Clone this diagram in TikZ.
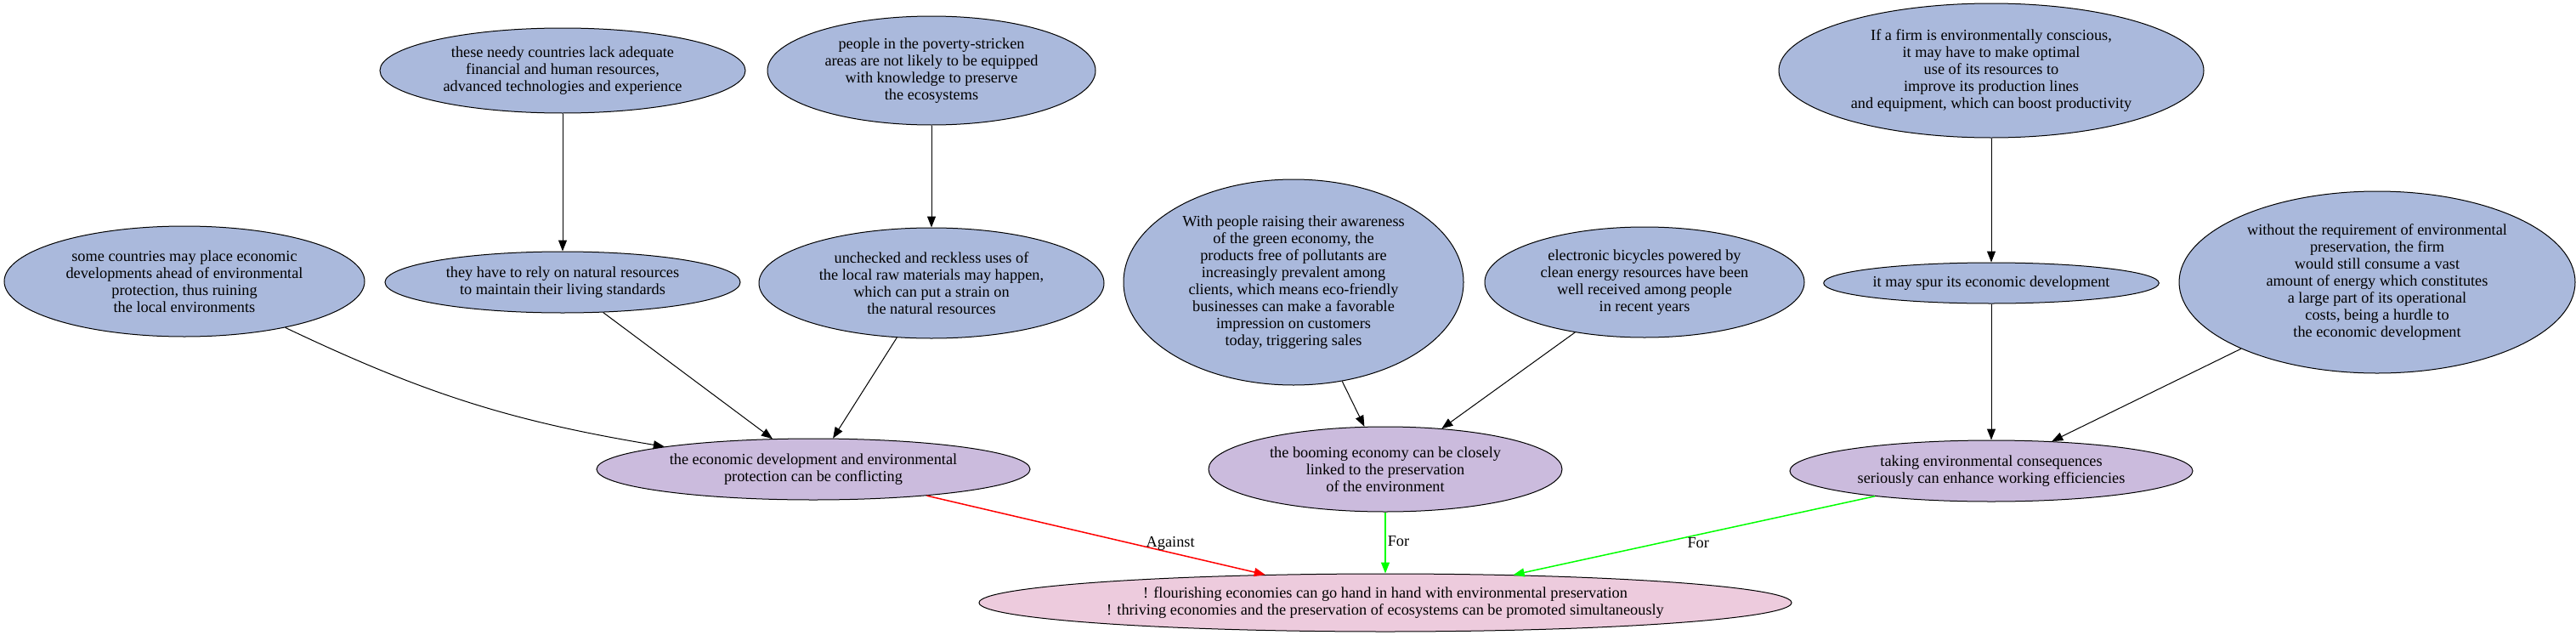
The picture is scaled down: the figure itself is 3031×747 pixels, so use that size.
\documentclass[tikz,border=0pt]{standalone}
\usepackage{fontspec}
\setmainfont{Liberation Serif}
\usepackage{xcolor}
\usepackage{tikz}
\usetikzlibrary{shapes.geometric, arrows.meta, positioning}
\definecolor{premisefill}{HTML}{AAB9DC}
\definecolor{claimfill}{HTML}{CBBBDD}
\definecolor{thesisfill}{HTML}{EDCBDD}

\begin{document}
\begin{tikzpicture}[x=1pt, y=-1pt,
        font=\fontsize{18.3}{20}\selectfont,
        premise/.style={ellipse, draw, line width=1pt, fill=premisefill, inner sep=0pt, align=center},
        claim/.style={premise, fill=claimfill},
        thesis/.style={premise, fill=thesisfill},
        arrow/.style={-{Triangle[length=13pt, width=10pt]}, line width=1pt},
        against/.style={arrow, red, line width=1.5pt},
        for/.style={arrow, green, line width=1.5pt},
        lbl/.style={text=black, inner sep=2pt}
    ]
        \useasboundingbox (0,0) rectangle (3031,747);

        % top and middle rows
        \node[premise, minimum width=430pt, minimum height=100pt] (needy) at (662,83) {these needy countries lack adequate\\financial and human resources,\\advanced technologies and experience};
        \node[premise, minimum width=418pt, minimum height=72pt, below=162pt of needy] (rely) {they have to rely on natural resources\\to maintain their living standards};
        \node[premise, minimum width=424pt, minimum height=130pt] (place) at (217,331) {some countries may place economic\\developments ahead of environmental\\protection, thus ruining\\the local environments};
        \node[premise, minimum width=386pt, minimum height=128pt] (poverty) at (1096,83) {people in the poverty-stricken\\areas are not likely to be equipped\\with knowledge to preserve\\the ecosystems};
        \node[premise, minimum width=406pt, minimum height=130pt, below=120pt of poverty] (reckless) {unchecked and reckless uses of\\the local raw materials may happen,\\which can put a strain on\\the natural resources};
        \node[premise, minimum width=400pt, minimum height=242pt] (green) at (1522,332) {With people raising their awareness\\of the green economy, the\\products free of pollutants are\\increasingly prevalent among\\clients, which means eco-friendly\\businesses can make a favorable\\impression on customers\\today, triggering sales};
        \node[premise, minimum width=376pt, minimum height=130pt] (bicycles) at (1935,332) {electronic bicycles powered by\\clean energy resources have been\\well received among people\\in recent years};
        \node[premise, minimum width=500pt, minimum height=158pt] (firm) at (2343,83) {If a firm is environmentally conscious,\\it may have to make optimal\\use of its resources to\\improve its production lines\\and equipment, which can boost productivity};
        \node[premise, minimum width=394pt, minimum height=48pt, below=146pt of firm] (spur) {it may spur its economic development};
        \node[premise, minimum width=466pt, minimum height=214pt] (energy) at (2797,332) {without the requirement of environmental\\preservation, the firm\\would still consume a vast\\amount of energy which constitutes\\a large part of its operational\\costs, being a hurdle to\\the economic development};

        % claims
        \node[claim, minimum width=510pt, minimum height=72pt] (conflict) at (957,552) {the economic development and environmental\\protection can be conflicting};
        \node[claim, minimum width=416pt, minimum height=100pt] (booming) at (1630,552) {the booming economy can be closely\\linked to the preservation\\of the environment};
        \node[claim, minimum width=474pt, minimum height=72pt, below=160pt of spur] (efficiency) {taking environmental consequences\\seriously can enhance working efficiencies};

        % thesis
        \node[thesis, minimum width=956pt, minimum height=68pt, below=72pt of booming] (thesis) {! flourishing economies can go hand in hand with environmental preservation\\! thriving economies and the preservation of ecosystems can be promoted simultaneously};

        \draw[arrow] (needy) -- (rely);
        \draw[arrow] (poverty) -- (reckless);
        \draw[arrow] (firm) -- (spur);
        \draw[arrow] (place) to[bend right=8] (conflict);
        \draw[arrow] (rely) -- (conflict);
        \draw[arrow] (reckless) -- (conflict);
        \draw[arrow] (green) -- (booming);
        \draw[arrow] (bicycles) -- (booming);
        \draw[arrow] (spur) -- (efficiency);
        \draw[arrow] (energy) -- (efficiency);

        \draw[against] (conflict) -- node[lbl, pos=0.72, above] {Against} (thesis);
        \draw[for] (booming) -- node[lbl, pos=0.47, right] {For} (thesis);
        \draw[for] (efficiency) -- node[lbl, pos=0.52, anchor=north west, inner sep=0pt] {For} (thesis);
    \end{tikzpicture}
\end{document}
